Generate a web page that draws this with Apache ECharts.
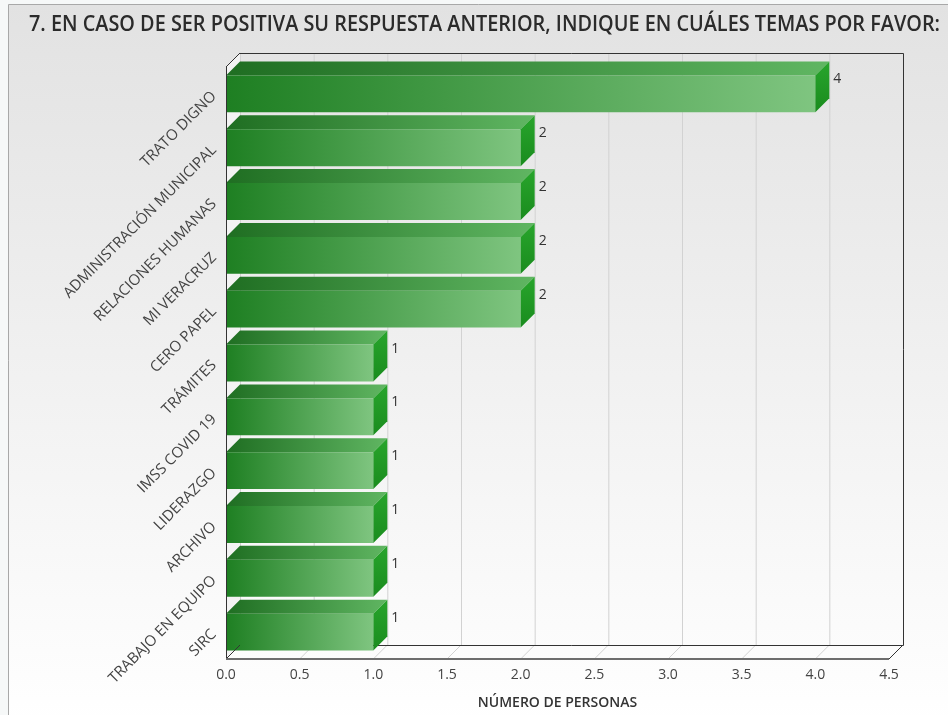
<!DOCTYPE html>
<html><head><meta charset="utf-8">
<script src="https://cdn.jsdelivr.net/npm/echarts@6/dist/echarts.min.js"></script>
<style>html,body{margin:0;padding:0;background:#f6f8f8}#c{width:948px;height:715px}</style>
</head><body><div id="c"></div>
<script>
// ---- data ----
const categories = ['TRATO DIGNO','ADMINISTRACIÓN MUNICIPAL','RELACIONES HUMANAS','MI VERACRUZ','CERO PAPEL','TRÁMITES','IMSS COVID 19','LIDERAZGO','ARCHIVO','TRABAJO EN EQUIPO','SIRC'];
const personas = [4,2,2,2,2,1,1,1,1,1,1];
const xTicks = [0,0.5,1,1.5,2,2.5,3,3.5,4,4.5];
const titleText = '7. EN CASO DE SER POSITIVA SU RESPUESTA ANTERIOR, INDIQUE EN CUÁLES TEMAS POR FAVOR:';
const axisName = 'NÚMERO DE PERSONAS';

// ---- styling ----
const D = 14;
const FONT = '"Open Sans", "Noto Sans", sans-serif';
const chart = echarts.init(document.getElementById('c'), null, {renderer:'canvas'});

// measure title to fit width
const cv = document.createElement('canvas').getContext('2d');
cv.font = '600 21px "Open Sans"';
const tw = cv.measureText(titleText).width;
const titleScale = 911 / tw;

function grad(x0,y0,x1,y1,c0,c1){return new echarts.graphic.LinearGradient(x0,y0,x1,y1,[{offset:0,color:c0},{offset:1,color:c1}]);}

function renderBack(params, api){
  const cs = params.coordSys;
  const top = cs.y, bottom = cs.y + cs.height, left = cs.x, right = cs.x + cs.width;
  const ch = [];
  ch.push({type:'polygon', shape:{points:[[left,top],[left+D,top-D],[left+D,bottom-D],[left,bottom]]}, style:{fill:'#f3f3f3'}});
  xTicks.forEach(t=>{
    const x = api.coord([t,0])[0];
    ch.push({type:'line', shape:{x1:x+D+0.5,y1:top-D,x2:x+D+0.5,y2:bottom-D}, style:{stroke:'#d2d2d2',lineWidth:1}});
    ch.push({type:'line', shape:{x1:x,y1:bottom,x2:x+D,y2:bottom-D}, style:{stroke:'#d2d2d2',lineWidth:1}});
  });
  ch.push({type:'polyline', shape:{points:[[left+D,top-D+0.5],[right+D+0.5,top-D+0.5],[right+D+0.5,bottom-D+0.5],[left+D,bottom-D+0.5]]}, style:{stroke:'#333',lineWidth:1,fill:null}});
  return {type:'group', children:ch};
}

function renderFront(params, api){
  const cs = params.coordSys;
  const top = cs.y, bottom = cs.y + cs.height, left = cs.x, right = cs.x + cs.width;
  const ch = [];
  ch.push({type:'line', shape:{x1:left+0.5,y1:top,x2:left+0.5,y2:bottom}, style:{stroke:'#333',lineWidth:1}});
  ch.push({type:'line', shape:{x1:left,y1:top,x2:left+D,y2:top-D}, style:{stroke:'#333',lineWidth:1}});
  ch.push({type:'line', shape:{x1:left,y1:bottom,x2:left+D,y2:bottom-D}, style:{stroke:'#333',lineWidth:1}});
  ch.push({type:'line', shape:{x1:left,y1:bottom,x2:right,y2:bottom}, style:{stroke:'#6e6e6e',lineWidth:2}});
  ch.push({type:'line', shape:{x1:right,y1:bottom,x2:right+D,y2:bottom-D}, style:{stroke:'#333',lineWidth:1}});
  return {type:'group', children:ch};
}

function renderBar(params, api){
  const v = api.value(0), i = api.value(1);
  const s = api.coord([0,i]), e = api.coord([v,i]);
  const band = api.size([0,1])[1];
  const h = band*0.685;
  const x0 = s[0], x1 = e[0], y0 = e[1]-h/2;
  return {type:'group', children:[
    {type:'polygon', shape:{points:[[x0,y0],[x1,y0],[x1+D,y0-D],[x0+D,y0-D]]},
      style:{fill:grad(0,0,1,0,'#1f6e22','#60b662')}},
    {type:'rect', shape:{x:x0,y:y0,width:x1-x0,height:h},
      style:{fill:grad(0,0,1,0,'#1e7f22','#7fc580')}},
    {type:'polygon', shape:{points:[[x1,y0],[x1+D,y0-D],[x1+D,y0-D+h],[x1,y0+h]]},
      style:{fill:grad(0,0,0,1,'#28a52c','#1a8c1e')}},
    {type:'text', style:{text:String(v), x:x1+D+4, y:y0+4, fill:'#333', font:'14px '+FONT, verticalAlign:'middle', align:'left'}}
  ]};
}

chart.setOption({
  animation:false,
  backgroundColor:'transparent',
  graphic:[
    {type:'rect', z:-10, shape:{x:8.5,y:4.5,width:960,height:720}, style:{fill:grad(0,0,0,1,'#e2e2e2','#ffffff'), stroke:'#a8a8a8', lineWidth:1}},
    {type:'text', z:10, x:29, y:25, scaleX:titleScale, originX:0, originY:0,
      style:{text:titleText, font:'600 21px "Open Sans"', fill:'#2b2b2b', verticalAlign:'middle'}}
  ],
  grid:{left:226, right:59, top:67, bottom:53, containLabel:false},
  xAxis:{type:'value', min:0, max:4.5, interval:0.5,
    axisLine:{show:false}, axisTick:{show:false}, splitLine:{show:false},
    axisLabel:{formatter:v=>v.toFixed(1), fontSize:14, color:'#444', margin:9, fontFamily:FONT},
    name:axisName, nameLocation:'middle', nameGap:37,
    nameTextStyle:{fontSize:14, fontWeight:600, color:'#333', fontFamily:FONT}},
  yAxis:{type:'category', data:categories, inverse:true,
    axisLine:{show:false}, axisTick:{show:false}, splitLine:{show:false},
    axisLabel:{rotate:45, margin:12, fontSize:15, color:'#444', fontFamily:FONT}},
  series:[
    {type:'custom', z:1, clip:false, renderItem:renderBack, data:[[0,0]], encode:{x:0,y:1}, silent:true},
    {type:'custom', z:2, clip:false, renderItem:renderBar, data:personas.map((v,i)=>[v,i]), encode:{x:0,y:1}},
    {type:'custom', z:3, clip:false, renderItem:renderFront, data:[[0,0]], encode:{x:0,y:1}, silent:true}
  ]
});
</script></body></html>
